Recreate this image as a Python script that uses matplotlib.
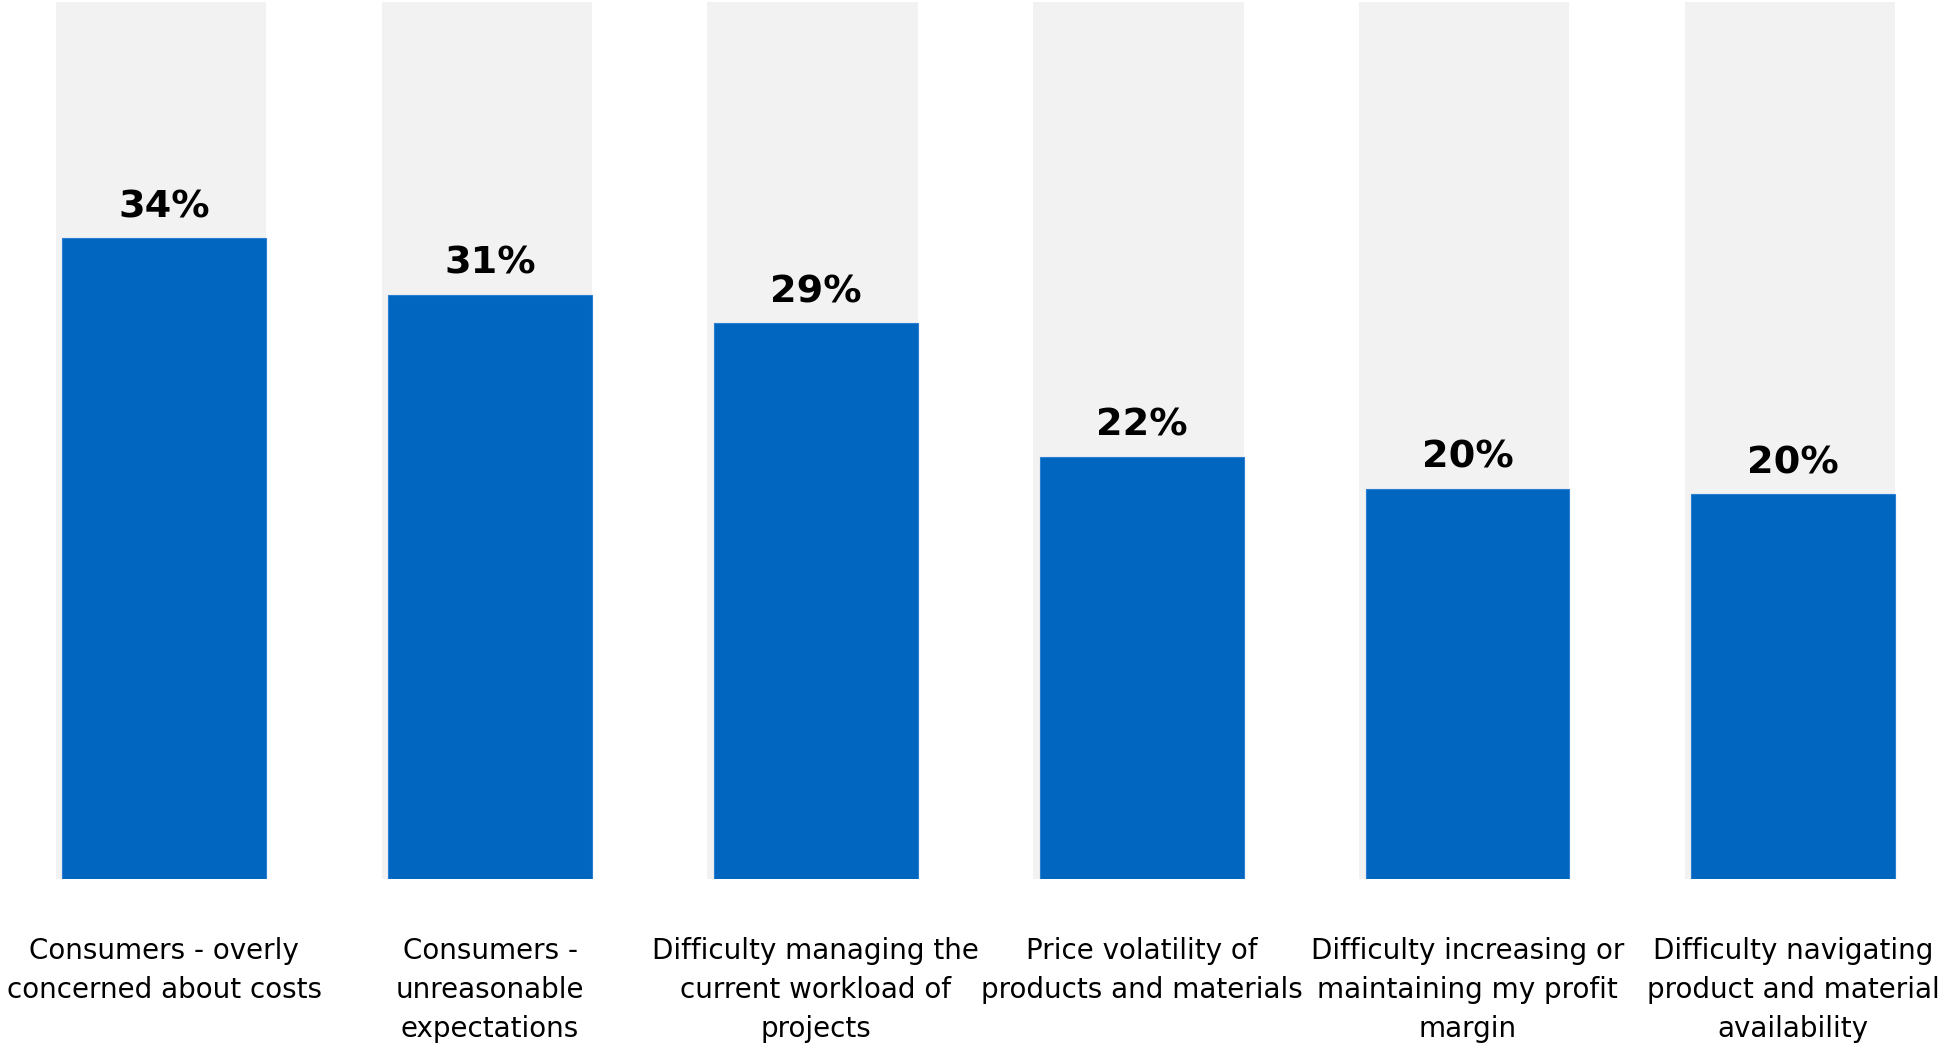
import numpy as np
import matplotlib
matplotlib.use("Agg")
import matplotlib.pyplot as plt

categories = [
    "Consumers - overly\nconcerned about costs",
    "Consumers -\nunreasonable\nexpectations",
    "Difficulty managing the\ncurrent workload of\nprojects",
    "Price volatility of\nproducts and materials",
    "Difficulty increasing or\nmaintaining my profit\nmargin",
    "Difficulty navigating\nproduct and material\navailability",
]
values = [34.0, 31.0, 29.5, 22.4, 20.7, 20.4]
value_labels = ["34%", "31%", "29%", "22%", "20%", "20%"]
background = [46.5] * 6  # light grey full-height bars behind

BLUE = "#0066C0"
GREY = "#F2F2F2"

plt.rcParams["font.family"] = ["DejaVu Sans"]

fig = plt.figure(figsize=(19.42, 10.46), dpi=100)
ax = fig.add_axes([0, (1046 - 879) / 1046, 1, 879 / 1046])

x = np.arange(len(categories))
ax.bar(x - 0.01, background, width=0.646, color=GREY, zorder=1)
bars = ax.bar(x, values, width=0.626, color=BLUE, edgecolor="#2a7fd0",
              linewidth=0.8, zorder=2)

for b, lab in zip(bars, value_labels):
    ax.annotate(lab, (b.get_x() + b.get_width() / 2, b.get_height()),
                xytext=(0, 15), textcoords="offset points",
                ha="center", va="baseline", fontsize=27.5,
                fontweight="bold", color="black")

ax.set_xlim(-0.5043, 5.4564)
ax.set_ylim(0, 46.63)
ax.set_xticks(x)
ax.set_xticklabels(categories, fontsize=20, linespacing=1.5)
ax.tick_params(axis="x", length=0, pad=41.8)
ax.set_yticks([])
for s in ax.spines.values():
    s.set_visible(False)

fig.savefig("out.png", dpi=100)
